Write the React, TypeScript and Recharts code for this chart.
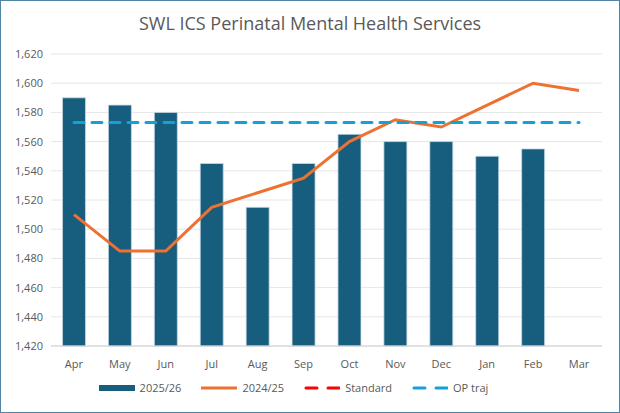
import { ComposedChart, Bar, Line, XAxis, YAxis, CartesianGrid, Legend } from 'recharts'

const MONTHS = ['Apr', 'May', 'Jun', 'Jul', 'Aug', 'Sep', 'Oct', 'Nov', 'Dec', 'Jan', 'Feb', 'Mar']
const CURRENT: (number | null)[] = [1590, 1585, 1580, 1545, 1515, 1545, 1565, 1560, 1560, 1550, 1555, null]
const PRIOR = [1510, 1485, 1485, 1515, 1525, 1535, 1560, 1575, 1570, 1585, 1600, 1595]
const STANDARD: (number | null)[] = MONTHS.map(() => null)
const OP_TRAJ = [1573, 1573, 1573, 1573, 1573, 1573, 1573, 1573, 1573, 1573, 1573, 1573]
const Y_TICKS = [1420, 1440, 1460, 1480, 1500, 1520, 1540, 1560, 1580, 1600, 1620]

const rows = MONTHS.map((m, i) => ({
  month: m, cur: CURRENT[i], prior: PRIOR[i], std: STANDARD[i], op: OP_TRAJ[i],
}))

const FONT = '"Open Sans", "Liberation Sans", sans-serif'
const fmt = (v: number) => v.toLocaleString('en-US')

const LEGEND = [
  { label: '2025/26', color: '#175d7e', kind: 'bar' },
  { label: '2024/25', color: '#ed7130', kind: 'line' },
  { label: 'Standard', color: '#ff0000', kind: 'dash' },
  { label: 'OP traj', color: '#14a0d8', kind: 'dash' },
]

function LegendRow() {
  return (
    <div style={{ display: 'flex', justifyContent: 'center', gap: 20, fontSize: 11, color: '#595959', fontFamily: FONT }}>
      {LEGEND.map((l) => (
        <span key={l.label} style={{ display: 'flex', alignItems: 'center', gap: 5 }}>
          <svg width={36} height={8}>
            {l.kind === 'bar' && <rect x={0} y={1} width={36} height={6} fill={l.color} />}
            {l.kind === 'line' && <line x1={0} x2={36} y1={4} y2={4} stroke={l.color} strokeWidth={3} strokeLinecap="round" />}
            {l.kind === 'dash' && <line x1={2} x2={36} y1={4} y2={4} stroke={l.color} strokeWidth={3} strokeDasharray="11 11" strokeLinecap="round" />}
          </svg>
          {l.label}
        </span>
      ))}
    </div>
  )
}

export default function App() {
  return (
    <div style={{ position: 'absolute', left: 0, top: 0, width: 618, height: 411, border: '1px solid #4f86a8', background: '#fff' }}>
      <div style={{ position: 'absolute', top: 10, width: '100%', textAlign: 'center', fontFamily: FONT, fontSize: 18, color: '#595959' }}>
        SWL ICS Perinatal Mental Health Services
      </div>
      <div style={{ position: 'absolute', left: 0, top: 40 }}>
        <ComposedChart width={618} height={365} data={rows} margin={{ top: 13, right: 17, bottom: 0, left: -16 }} barCategoryGap="25%">
          <CartesianGrid stroke="#e6e6e6" vertical={false} />
          <XAxis dataKey="month" tickLine={false} stroke="#d0d0d0"
            tick={{ fontSize: 11, fill: '#595959', fontFamily: FONT }} tickMargin={8} />
          <YAxis domain={[1420, 1620]} ticks={Y_TICKS} tickFormatter={fmt} axisLine={false} tickLine={false}
            tick={{ fontSize: 11, fill: '#595959', fontFamily: FONT }} width={66} interval={0} />
          <Bar dataKey="cur" name="2025/26" fill="#175d7e" stroke="#c9dbe6" strokeWidth={0.8} isAnimationActive={false} />
          <Line dataKey="prior" name="2024/25" stroke="#ed7130" strokeWidth={3} dot={false} type="linear" isAnimationActive={false} />
          <Line dataKey="std" name="Standard" stroke="#ff0000" strokeWidth={3} strokeDasharray="8 8" dot={false} isAnimationActive={false} />
          <Line dataKey="op" name="OP traj" stroke="#14a0d8" strokeWidth={3} strokeDasharray="10 8" strokeLinecap="round" dot={false} isAnimationActive={false} />
          <Legend verticalAlign="bottom" height={30} content={() => <LegendRow />} wrapperStyle={{ bottom: -4 }} />
        </ComposedChart>
      </div>
    </div>
  )
}
